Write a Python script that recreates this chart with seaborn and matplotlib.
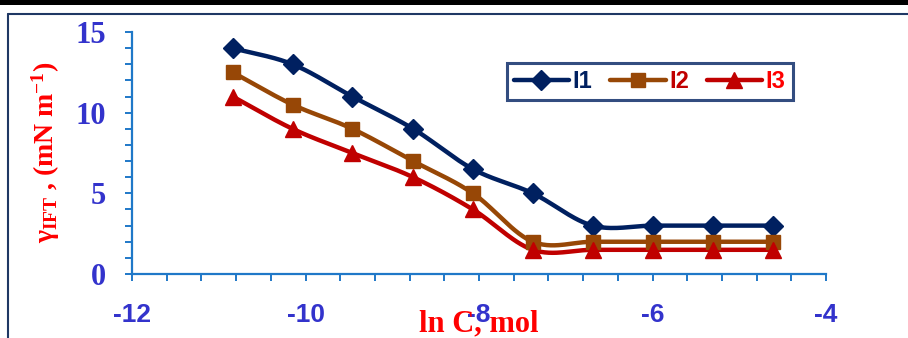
import numpy as np
import pandas as pd
import matplotlib
matplotlib.use("Agg")
import matplotlib.pyplot as plt
from matplotlib.lines import Line2D
from matplotlib.patches import Rectangle
import seaborn as sns

# ---- data ----
ln_c = [-10.84, -10.15, -9.46, -8.76, -8.07, -7.38, -6.69, -5.99, -5.30, -4.61]
i1 = [14.0, 13.0, 11.0, 9.0, 6.5, 5.0, 3.0, 3.0, 3.0, 3.0]
i2 = [12.5, 10.5, 9.0, 7.0, 5.0, 2.0, 2.0, 2.0, 2.0, 2.0]
i3 = [11.0, 9.0, 7.5, 6.0, 4.0, 1.5, 1.5, 1.5, 1.5, 1.5]
series_names = ["I1", "I2", "I3"]
x_ticks = [-12, -10, -8, -6, -4]
y_ticks = [0, 5, 10, 15]

line_colors = ["#002060", "#974706", "#C00000"]
text_colors = ["#002060", "#C00000", "#FF0000"]
markers = ["D", "s", "^"]
msizes = [10, 10, 11]

sns.set_theme(style="white")
plt.rcParams['font.family'] = ['DejaVu Sans']
plt.rcParams['axes.unicode_minus'] = False
plt.rcParams['mathtext.fontset'] = 'custom'
plt.rcParams['mathtext.rm'] = 'Liberation Serif:bold'
plt.rcParams['mathtext.bf'] = 'Liberation Serif:bold'
plt.rcParams['mathtext.it'] = 'Liberation Serif:bold'
plt.rcParams['mathtext.default'] = 'bf'

fig = plt.figure(figsize=(9.08, 3.38), dpi=100)
ax = fig.add_axes([0.1454, 0.1893, 0.7643, 0.716])


def smooth(xs, ys, n=30):
    """Catmull-Rom style smoothing like spreadsheet 'smoothed line'."""
    xs = np.asarray(xs, float); ys = np.asarray(ys, float)
    px = np.concatenate([[2 * xs[0] - xs[1]], xs, [2 * xs[-1] - xs[-2]]])
    py = np.concatenate([[ys[0]], ys, [ys[-1]]])
    outx, outy = [], []
    for k in range(1, len(px) - 2):
        t = np.linspace(0, 1, n, endpoint=False)
        for arr, out in ((px, outx), (py, outy)):
            p0, p1, p2, p3 = arr[k - 1], arr[k], arr[k + 1], arr[k + 2]
            if k == 1:
                p0 = p1 - (p2 - p1)
            if k == len(px) - 3:
                p3 = p2 + (p2 - p1)
            out.extend(0.5 * ((2 * p1) + (-p0 + p2) * t
                              + (2 * p0 - 5 * p1 + 4 * p2 - p3) * t ** 2
                              + (-p0 + 3 * p1 - 3 * p2 + p3) * t ** 3))
    outx.append(xs[-1]); outy.append(ys[-1])
    return np.array(outx), np.array(outy)


for name, ys, c, m, ms in zip(series_names, [i1, i2, i3], line_colors, markers, msizes):
    sx, sy = smooth(ln_c, ys)
    dfs = pd.DataFrame({"x": sx, "y": sy})
    sns.lineplot(data=dfs, x="x", y="y", ax=ax, color=c, linewidth=3.2,
                 sort=False, estimator=None, zorder=2)
    dfp = pd.DataFrame({"x": ln_c, "y": ys})
    ax.plot(dfp["x"], dfp["y"], linestyle="none", marker=m, markersize=ms,
            color=c, markeredgecolor=c, zorder=3)

ax.set_xlim(-12, -4)
ax.set_ylim(0, 15)
ax.set_xticks(x_ticks)
ax.set_yticks(y_ticks)
ax.set_xticks(np.arange(-12, -3.99, 0.4), minor=True)
ax.set_yticks(np.arange(0, 15.01, 1), minor=True)

axis_col = "#1F78C8"
tick_col = "#3333CC"
for s in ["top", "right"]:
    ax.spines[s].set_visible(False)
for s in ["left", "bottom"]:
    ax.spines[s].set_color(axis_col)
    ax.spines[s].set_linewidth(1.6)
ax.tick_params(axis="both", which="both", direction="out", color=axis_col,
               width=1.4, length=5, bottom=True, left=True)
ax.tick_params(axis="x", which="major", pad=16)
ax.tick_params(axis="y", which="major", pad=14)

for lab in ax.get_xticklabels():
    lab.set_fontfamily("Liberation Sans")
    lab.set_fontweight("bold")
    lab.set_fontsize(19)
    lab.set_color(tick_col)
for lab in ax.get_yticklabels():
    lab.set_fontfamily("Liberation Serif")
    lab.set_fontweight("bold")
    lab.set_fontsize(22)
    lab.set_color(tick_col)

ax.set_xlabel("")
ax.set_ylabel("")
fig.text(0.5275, 0.042, "ln C, mol", ha="center", va="center", color="#FF0000",
         fontfamily="Liberation Serif", fontweight="bold", fontsize=22)
fig.text(0.05, 0.55, "γ$_{IFT}$ , (mN m$^{-1}$)", rotation=90,
         ha="center", va="center", color="#FF0000",
         fontfamily="Liberation Serif", fontweight="bold", fontsize=20)

handles = [Line2D([0], [0], color=c, lw=3.2, marker=m, markersize=ms,
                  markeredgecolor=c)
           for c, m, ms in zip(line_colors, markers, msizes)]
leg = ax.legend(handles, series_names, loc="upper right",
                bbox_to_anchor=(0.969, 0.922), ncol=3, frameon=True,
                fancybox=False, handlelength=2.35, handletextpad=0.15,
                columnspacing=0.75, borderpad=0.3,
                prop={"family": "Liberation Sans", "weight": "bold", "size": 17})
leg.get_frame().set_edgecolor("#002060")
leg.get_frame().set_linewidth(2.2)
for t, c in zip(leg.get_texts(), text_colors):
    t.set_color(c)

# outer frame decorations
fig.add_artist(Rectangle((0, 0.985), 1, 0.015, transform=fig.transFigure,
                         color="black", lw=0))
fig.add_artist(Line2D([0.009, 1.0], [0.96, 0.96], transform=fig.transFigure,
                      color="#1F3864", lw=1.5))
fig.add_artist(Line2D([0.009, 0.009], [0.0, 0.96], transform=fig.transFigure,
                      color="#1F3864", lw=1.5))

fig.savefig("out.png", dpi=100)
